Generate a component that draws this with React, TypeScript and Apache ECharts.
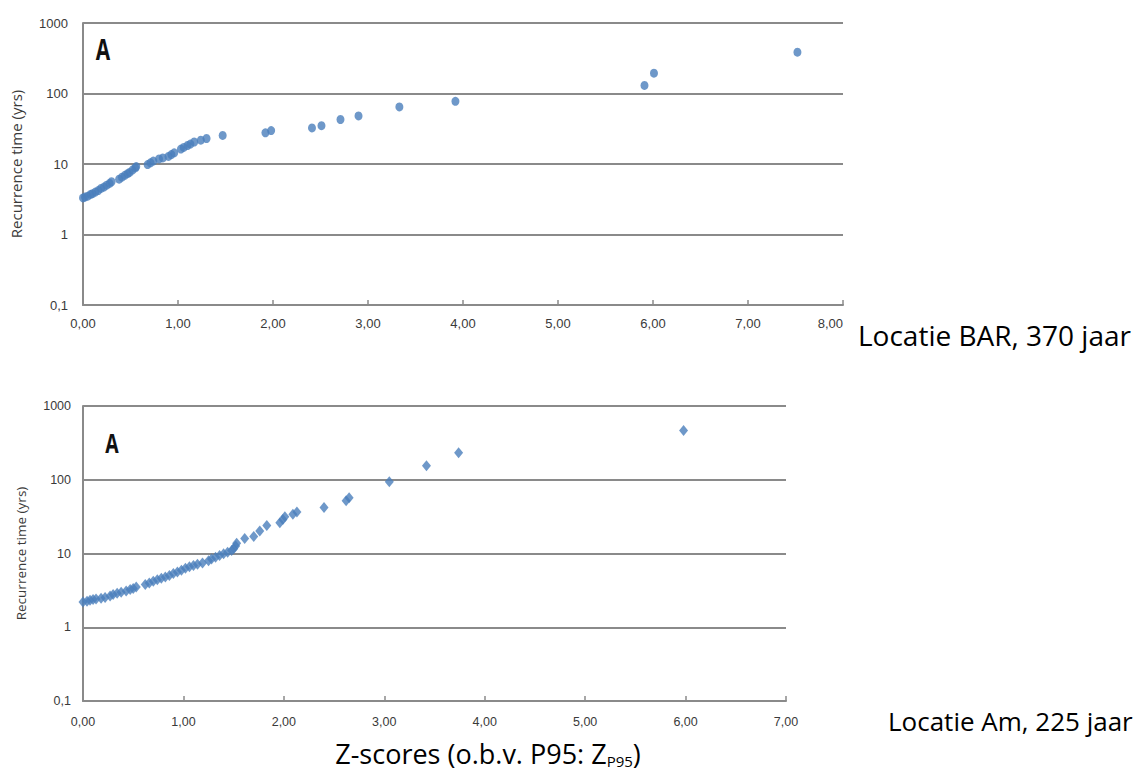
import React, { useEffect, useRef } from "react";
import * as echarts from "echarts";

// Location BAR (370 years): z-score vs recurrence time
const barZ = [
  0.0, 0.02, 0.05, 0.08, 0.1, 0.13, 0.16, 0.19, 0.22, 0.25, 0.28, 0.3,
  0.38, 0.41, 0.44, 0.47, 0.49, 0.52, 0.55, 0.56,
  0.68, 0.71, 0.74, 0.8, 0.84, 0.9, 0.93, 0.96,
  1.03, 1.06, 1.1, 1.13, 1.17, 1.24, 1.3,
  1.47, 1.92, 1.98, 2.41, 2.51, 2.71, 2.9, 3.33, 3.92, 5.91, 6.01, 7.52,
];
const barYears = [
  3.3, 3.4, 3.5, 3.7, 3.8, 4.0, 4.2, 4.5, 4.7, 5.0, 5.3, 5.6,
  6.1, 6.5, 6.9, 7.3, 7.6, 8.2, 8.8, 9.2,
  9.8, 10.4, 11.0, 11.8, 12.2, 12.8, 13.6, 14.4,
  16.3, 17.2, 18.3, 19.2, 20.5, 21.8, 23.0,
  25.4, 27.7, 29.8, 32.5, 35.0, 42.8, 48.0, 64.5, 77.5, 130, 194, 385,
];

// Location Am (225 years): z-score vs recurrence time
const amZ = [
  0.0, 0.04, 0.07, 0.1, 0.13, 0.18, 0.22, 0.27, 0.3, 0.34, 0.38, 0.43, 0.47, 0.5, 0.53,
  0.62, 0.66, 0.7, 0.74, 0.78, 0.82, 0.86, 0.9, 0.94, 0.98, 1.02, 1.06, 1.1, 1.14, 1.19,
  1.25, 1.28, 1.32, 1.36, 1.4, 1.44, 1.48, 1.5, 1.52, 1.53,
  1.61, 1.7, 1.76, 1.83, 1.96, 1.99, 2.01, 2.09, 2.13,
  2.4, 2.62, 2.65, 3.05, 3.42, 3.74, 5.98,
];
const amYears = [
  2.2, 2.25, 2.32, 2.38, 2.42, 2.48, 2.53, 2.65, 2.78, 2.88, 2.98, 3.1, 3.24, 3.36, 3.52,
  3.8, 3.98, 4.2, 4.4, 4.6, 4.8, 5.05, 5.35, 5.6, 5.95, 6.3, 6.6, 6.9, 7.15, 7.45,
  8.0, 8.4, 8.9, 9.4, 9.9, 10.4, 11.0, 11.6, 12.6, 13.8,
  16.0, 17.0, 20.2, 24.0, 26.2, 29.0, 31.5, 34.0, 36.5,
  42, 52, 57, 94, 155, 233, 465,
];

const yTitle = "Recurrence time (yrs)";
const panelLetter = "A";
const topCaption = "Locatie BAR, 370 jaar";
const bottomCaption = "Locatie Am, 225 jaar";

const MARKER = "#4a7ebb";
const GRID_LINE = "#8a8a8a";
const LABEL = "#3a3a3a";
const FONT = "'Liberation Sans', Arial, sans-serif";
const TEXT_FONT = "'Open Sans', 'Noto Sans', sans-serif";

const comma = (v: number, digits: number) => v.toFixed(digits).replace(".", ",");
const logLabel = (v: number) => {
  const n = Number(v.toPrecision(6));
  return n < 1 ? comma(n, 1) : String(n);
};

const pairs = (xs: number[], ys: number[]) => xs.map((x, i) => [x, ys[i]]);

function xAxisFor(gridIndex: number, max: number, fontSize: number, margin: number, alignMax: string) {
  return {
    type: "value",
    gridIndex,
    min: 0,
    max,
    interval: 1,
    axisLine: { show: true, lineStyle: { color: GRID_LINE, width: 2 } },
    axisTick: { show: true, inside: true, length: 5, lineStyle: { color: GRID_LINE, width: 1.5 } },
    splitLine: { show: false },
    axisLabel: {
      color: LABEL,
      fontSize,
      fontFamily: FONT,
      margin,
      alignMaxLabel: alignMax,
      formatter: (v: number) => comma(v, 2),
    },
  };
}

function yAxisFor(gridIndex: number, fontSize: number, margin: number, nameGap: number, nameSize: number) {
  return {
    type: "log",
    logBase: 10,
    gridIndex,
    min: 0.1,
    max: 1000,
    name: yTitle,
    nameLocation: "middle",
    nameGap,
    nameRotate: 90,
    nameTextStyle: { color: LABEL, fontSize: nameSize, fontFamily: TEXT_FONT },
    axisLine: { show: true, lineStyle: { color: GRID_LINE, width: 2 } },
    axisTick: { show: false },
    splitLine: { show: true, lineStyle: { color: GRID_LINE, width: 2 } },
    axisLabel: {
      color: LABEL,
      fontSize,
      fontFamily: FONT,
      margin,
      formatter: logLabel,
    },
  };
}

function letter(x: number, y: number, size: number) {
  return {
    type: "text",
    x,
    y,
    scaleX: 0.72,
    style: {
      text: panelLetter,
      font: `bold ${size}px ${TEXT_FONT}`,
      fill: "#111111",
      align: "center",
      verticalAlign: "middle",
    },
  };
}

export default function App() {
  const ref = useRef<HTMLDivElement>(null);

  useEffect(() => {
    if (!ref.current) return;
    const chart = echarts.init(ref.current, null, { renderer: "svg" });
    chart.setOption({
      animation: false,
      backgroundColor: "#ffffff",
      grid: [
        { left: 78, right: 298, top: 23, height: 282 },
        { left: 83, right: 355, top: 406, height: 295 },
      ],
      xAxis: [xAxisFor(0, 8, 13, 12, "right"), xAxisFor(1, 7, 12.5, 14, "center")],
      yAxis: [yAxisFor(0, 13, 15, 60, 15), yAxisFor(1, 12.5, 12, 55, 13.5)],
      series: [
        {
          type: "scatter",
          xAxisIndex: 0,
          yAxisIndex: 0,
          symbol: "circle",
          symbolSize: [8, 9],
          itemStyle: { color: MARKER },
          data: pairs(barZ, barYears),
        },
        {
          type: "scatter",
          xAxisIndex: 1,
          yAxisIndex: 1,
          symbol: "diamond",
          symbolSize: [9, 11],
          itemStyle: { color: MARKER },
          data: pairs(amZ, amYears),
        },
      ],
      graphic: [
        letter(103, 49, 29),
        letter(112, 443, 27),
        {
          type: "text",
          x: 858,
          y: 335,
          style: {
            text: topCaption,
            font: `28px ${TEXT_FONT}`,
            fill: "#000000",
            align: "left",
            verticalAlign: "middle",
          },
        },
        {
          type: "text",
          x: 888,
          y: 721,
          style: {
            text: bottomCaption,
            font: `26px ${TEXT_FONT}`,
            fill: "#000000",
            align: "left",
            verticalAlign: "middle",
          },
        },
        {
          type: "text",
          x: 488,
          y: 753,
          style: {
            text: "{a|Z-scores (o.b.v. P95: Z}{s|P95}{a|)}",
            align: "center",
            verticalAlign: "middle",
            rich: {
              a: { fontFamily: TEXT_FONT, fontSize: 27, lineHeight: 31, color: "#000000" },
              s: {
                fontFamily: TEXT_FONT,
                fontSize: 15,
                lineHeight: 16,
                color: "#000000",
                verticalAlign: "bottom",
              },
            },
          },
        },
      ],
    });
    return () => chart.dispose();
  }, []);

  return (
    <div
      ref={ref}
      style={{ position: "fixed", left: 0, top: 0, width: 1141, height: 771 }}
    />
  );
}
